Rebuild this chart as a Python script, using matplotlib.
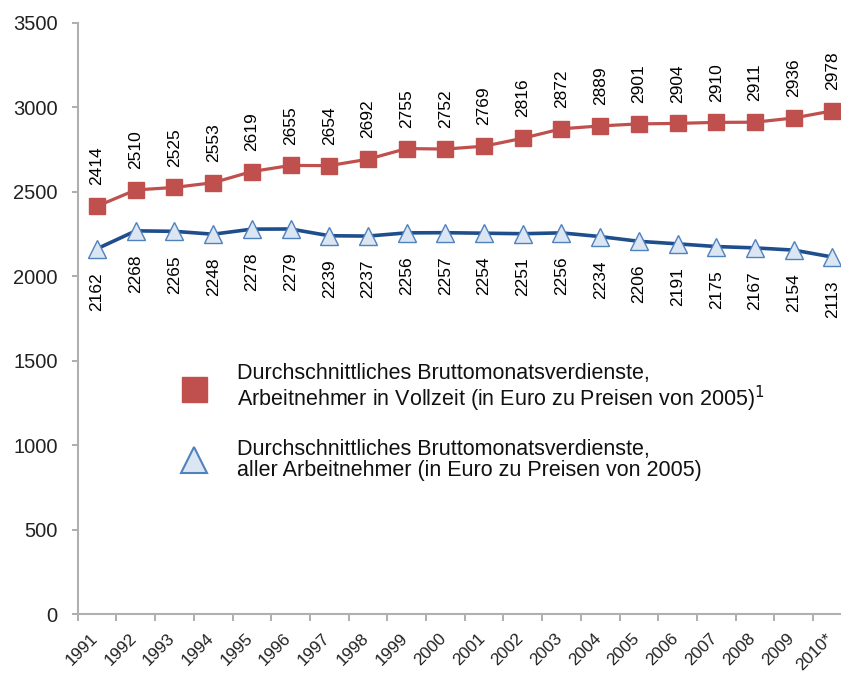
import matplotlib
matplotlib.use("Agg")
import matplotlib.pyplot as plt
import matplotlib.transforms as mtransforms
from matplotlib.lines import Line2D
import numpy as np

plt.rcParams['font.family'] = ['Liberation Sans', 'DejaVu Sans']

years = ["1991", "1992", "1993", "1994", "1995", "1996", "1997", "1998", "1999", "2000",
         "2001", "2002", "2003", "2004", "2005", "2006", "2007", "2008", "2009", "2010*"]
vollzeit = [2414, 2510, 2525, 2553, 2619, 2655, 2654, 2692, 2755, 2752,
            2769, 2816, 2872, 2889, 2901, 2904, 2910, 2911, 2936, 2978]
alle = [2162, 2268, 2265, 2248, 2278, 2279, 2239, 2237, 2256, 2257,
        2254, 2251, 2256, 2234, 2206, 2191, 2175, 2167, 2154, 2113]
label_red = "Durchschnittliches Bruttomonatsverdienste,\nArbeitnehmer in Vollzeit (in Euro zu Preisen von 2005)$^1$"
label_blue = "Durchschnittliches Bruttomonatsverdienste,\naller Arbeitnehmer (in Euro zu Preisen von 2005)"

W, H = 841, 677
fig = plt.figure(figsize=(W / 100, H / 100), dpi=100)
ax = fig.add_axes([77.7 / W, (H - 614) / H, 774 / W, (614 - 22.7) / H])

x = np.arange(len(years))
red = "#C0504D"
blue_line = "#1F4E8C"
ax.plot(x, vollzeit, color=red, lw=2.3, marker='s', ms=11, mfc=red, mec=red, zorder=3)
ax.plot(x, alle, color=blue_line, lw=2.6, marker='^', ms=13, mfc="#DCE6F2", mec="#4F81BD",
        mew=1.0, zorder=3)

for xi, v in zip(x, vollzeit):
    ax.annotate(str(v), (xi, v), xytext=(0, 15), textcoords='offset points',
                rotation=90, ha='center', va='bottom', fontsize=12.5, color='black')
for xi, v in zip(x, alle):
    ax.annotate(str(v), (xi, v), xytext=(0, -17), textcoords='offset points',
                rotation=90, ha='center', va='top', fontsize=12.5, color='black')

ax.set_xlim(-0.5, len(years) - 0.5)
ax.set_ylim(0, 3500)
ax.set_yticks(np.arange(0, 3501, 500))
ax.tick_params(axis='y', length=4.5, width=1.2, color='#A0A0A0', pad=10, labelsize=14.5,
               labelcolor='#222222')
ax.set_xticks(x)
ax.set_xticklabels(years, rotation=45, ha='right', va='top', rotation_mode='anchor',
                   fontsize=12.3, color='#222222')
ax.tick_params(axis='x', which='major', length=0, pad=12)
shift = mtransforms.ScaledTranslation(-7 / 100, 0, fig.dpi_scale_trans)
for lab in ax.get_xticklabels():
    lab.set_transform(lab.get_transform() + shift)
ax.set_xticks(np.arange(-0.5, len(years), 1), minor=True)
ax.tick_params(axis='x', which='minor', length=5, width=1.2, color='#A0A0A0')

for s in ['top', 'right']:
    ax.spines[s].set_visible(False)
for s in ['left', 'bottom']:
    ax.spines[s].set_color('#B0B0B0')
    ax.spines[s].set_linewidth(1.5)

handles = [Line2D([], [], ls='none', marker='s', ms=18, mfc=red, mec=red),
           Line2D([], [], ls='none', marker='^', ms=19, mfc="#DCE6F2", mec="#4F81BD", mew=1.5)]
leg = ax.legend(handles, [label_red, label_blue], loc='upper left',
                bbox_to_anchor=(172.5 / W, 1 - 354 / H), bbox_transform=fig.transFigure,
                frameon=False, fontsize=15.5, handletextpad=1.4, labelspacing=1.15,
                handlelength=1.2, borderaxespad=0)
for t in leg.get_texts():
    t.set_color('#111111')
    t.set_linespacing(1.0)

fig.savefig("out.png", dpi=100)
